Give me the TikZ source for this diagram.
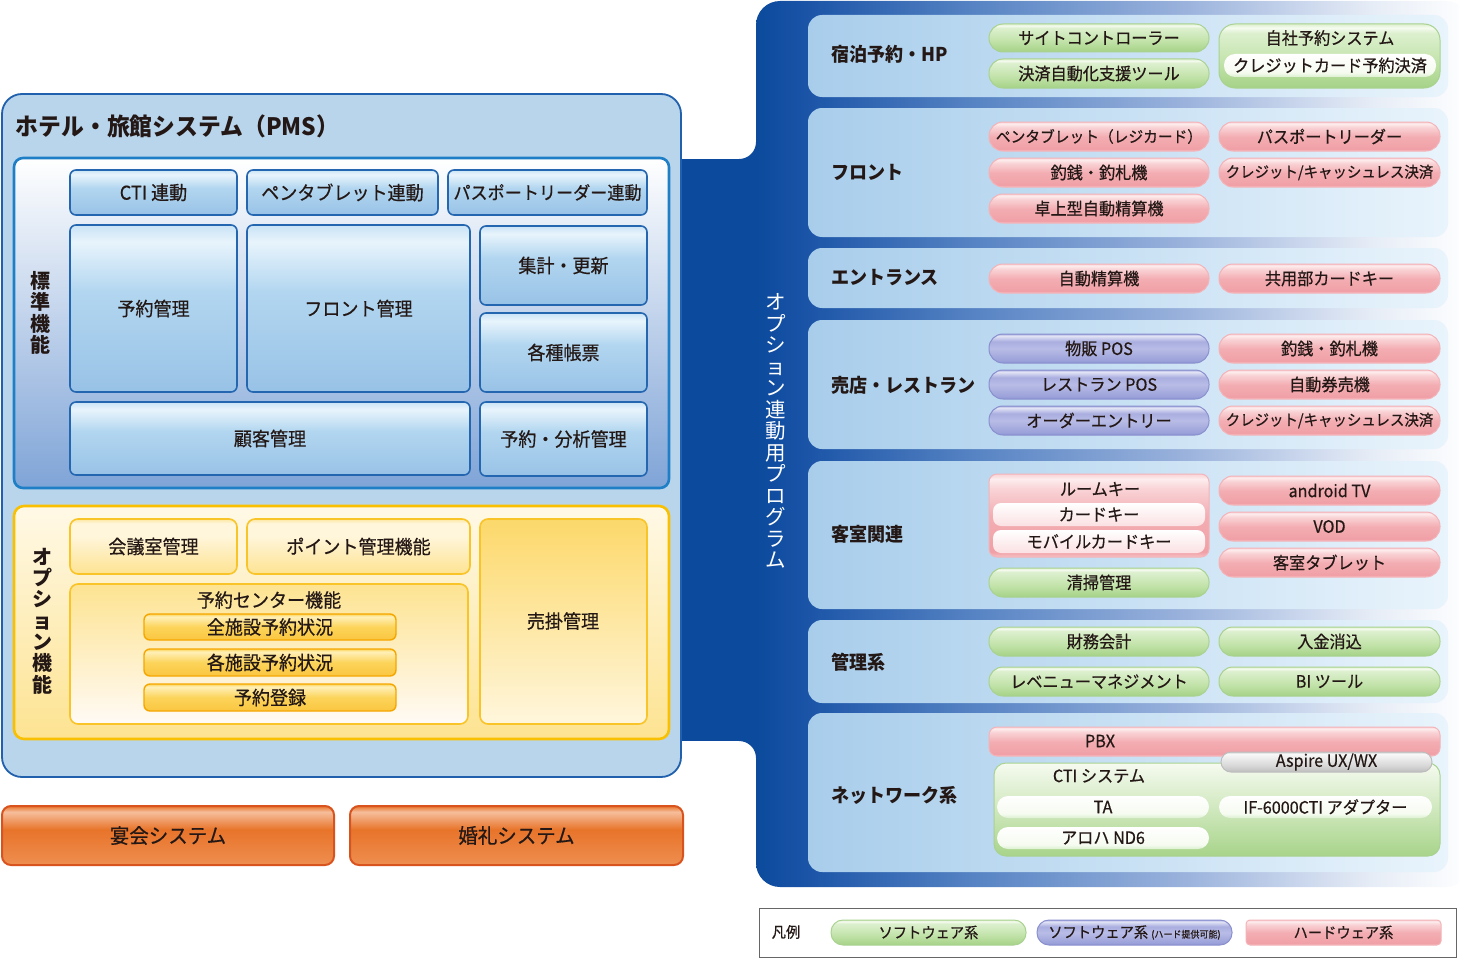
\documentclass[tikz,border=0pt]{standalone}
\usepackage{fontspec}
\setmainfont{Noto Sans CJK JP}[FakeStretch=0.95, UprightFeatures={FakeBold=0.5}]
\newfontfamily\fullw{Noto Sans CJK JP}
\definecolor{txt}{HTML}{231815}
\definecolor{pmsF}{HTML}{B9D5EC}
\definecolor{pmsD}{HTML}{2160AC}
\definecolor{stdD}{HTML}{1E7FC6}
\definecolor{stdB}{HTML}{7FA4D7}
\definecolor{bbd}{HTML}{2467B0}
\definecolor{optD}{HTML}{F8C000}
\definecolor{ybd}{HTML}{F8C428}
\definecolor{ypd}{HTML}{F5A700}
\definecolor{orD}{HTML}{D9531E}
\definecolor{bb0}{HTML}{0B4A9C}
\definecolor{bb1}{HTML}{1852A6}
\definecolor{bb2}{HTML}{5A86C5}
\definecolor{bb3}{HTML}{9AB2DC}
\definecolor{bb4}{HTML}{E6ECF6}
\definecolor{gA}{HTML}{A3D085}
\definecolor{gB}{HTML}{A8D48A}
\definecolor{gC}{HTML}{C2E3AA}
\definecolor{gD}{HTML}{DDF0CF}
\definecolor{gE}{HTML}{F6FBF0}
\definecolor{gBd}{HTML}{A9D290}
\definecolor{pA}{HTML}{F6C2C5}
\definecolor{pB}{HTML}{F0A0A6}
\definecolor{pC}{HTML}{F3AEB3}
\definecolor{pD}{HTML}{F9D3D6}
\definecolor{pE}{HTML}{FDEDEE}
\definecolor{pBd}{HTML}{F3B3B8}
\definecolor{uA}{HTML}{8E94D2}
\definecolor{uB}{HTML}{9CA2DA}
\definecolor{uC}{HTML}{B8BCE6}
\definecolor{uD}{HTML}{A9AEE0}
\definecolor{uE}{HTML}{E4E5F6}
\definecolor{uBd}{HTML}{8A90CE}
\definecolor{kA}{HTML}{BDBDBD}
\definecolor{kB}{HTML}{D6D6D6}
\definecolor{kE}{HTML}{F8F8F8}
\definecolor{bA}{HTML}{98C2E6}
\definecolor{bB}{HTML}{B2D6F0}
\definecolor{bE}{HTML}{E8F4FC}
\definecolor{bD}{HTML}{C9E3F6}
\definecolor{yA}{HTML}{FDE391}
\definecolor{yB}{HTML}{FFF6DC}
\definecolor{yC}{HTML}{FDE7A0}
\definecolor{ysA}{HTML}{FAC640}
\definecolor{ysB}{HTML}{FCD45A}
\definecolor{ysC}{HTML}{FFF0B8}
\definecolor{oA}{HTML}{EE8E50}
\definecolor{oB}{HTML}{E8742A}
\definecolor{oC}{HTML}{F6BE9C}
\definecolor{panL}{HTML}{A8CDEB}
\definecolor{panR}{HTML}{E9F4FC}
\pgfdeclareverticalshading{shG}{100bp}{color(0bp)=(gA); color(25bp)=(gA); color(27bp)=(gB); color(45bp)=(gC); color(68bp)=(gD); color(72bp)=(gE); color(75bp)=(gD); color(100bp)=(gD)}
\pgfdeclareverticalshading{shP}{100bp}{color(0bp)=(pA); color(25bp)=(pA); color(28bp)=(pB); color(50bp)=(pC); color(66bp)=(pD); color(72bp)=(pE); color(75bp)=(pD); color(100bp)=(pD)}
\pgfdeclareverticalshading{shU}{100bp}{color(0bp)=(uA); color(25bp)=(uA); color(30bp)=(uB); color(50bp)=(uC); color(62bp)=(uD); color(72bp)=(uE); color(75bp)=(uD); color(100bp)=(uD)}
\pgfdeclareverticalshading{shK}{100bp}{color(0bp)=(kA); color(25bp)=(kA); color(40bp)=(kB); color(70bp)=(kE); color(75bp)=(kB); color(100bp)=(kB)}
\pgfdeclareverticalshading{shW}{100bp}{color(0bp)=(gD); color(25bp)=(gD); color(35bp)=(gE); color(75bp)=(white); color(100bp)=(white)}
\pgfdeclareverticalshading{shB}{100bp}{color(0bp)=(bA); color(25bp)=(bA); color(55bp)=(bB); color(70bp)=(bE); color(75bp)=(bD); color(100bp)=(bD)}
\pgfdeclareverticalshading{shY}{100bp}{color(0bp)=(yA); color(25bp)=(yA); color(60bp)=(yB); color(71bp)=(yB); color(75bp)=(yC); color(100bp)=(yC)}
\pgfdeclareverticalshading{shYS}{100bp}{color(0bp)=(ysA); color(25bp)=(ysA); color(50bp)=(ysB); color(70bp)=(ysC); color(75bp)=(ysB); color(100bp)=(ysB)}
\pgfdeclareverticalshading{shO}{100bp}{color(0bp)=(oA); color(25bp)=(oA); color(55bp)=(oB); color(70bp)=(oC); color(75bp)=(oB); color(100bp)=(oB)}
\pgfdeclarehorizontalshading{shBig}{100bp}{color(0bp)=(bb0); color(25bp)=(bb0); color(28bp)=(bb1); color(41bp)=(bb2); color(55bp)=(bb3); color(68bp)=(bb4); color(75bp)=(white); color(100bp)=(white)}
\newcommand{\mybox}[7]{%
  \pgfmathsetmacro\mbw{#5-#3}\pgfmathsetmacro\mbh{#6-#4}%
  \node[#2, minimum width=\mbw pt, minimum height=\mbh pt] (#1) at ({(#3+#5)/2},{(#4+#6)/2}) {#7};}
\tikzset{
  base/.style={inner sep=0pt, outer sep=0pt, text=txt},
  bluebox/.style={base, draw=bbd, line width=1.6pt, rounded corners=6pt, shading=shB, font=\fontsize{19}{21}\selectfont},
  ybox/.style={base, draw=ybd, line width=1.6pt, rounded corners=8pt, shading=shY, font=\fontsize{19}{21}\selectfont},
  ysub/.style={base, draw=ypd, line width=1.4pt, rounded corners=6pt, shading=shYS, font=\fontsize{19}{21}\selectfont},
  obox/.style={base, draw=orD, line width=2pt, rounded corners=9pt, shading=shO, font=\fontsize{20.5}{23}\selectfont},
  pill/.style={base, rounded corners=14pt, line width=1pt, font=\fontsize{17}{19}\selectfont},
  gpill/.style={pill, shading=shG, draw=gBd},
  ppill/.style={pill, shading=shP, draw=pBd},
  upill/.style={pill, shading=shU, draw=uBd},
  kpill/.style={pill, rounded corners=10pt, shading=shK, draw=kA},
  wpill/.style={pill, rounded corners=11pt, shading=shW, draw=none},
  panel/.style={base, rounded corners=14pt, left color=panL, right color=panR, draw=none},
  seclbl/.style={base, anchor=west, font=\bfseries\fontsize{19}{22}\selectfont},
  lbl/.style={base, font=\fontsize{17}{19}\selectfont},
  vlbl/.style={base, align=center, font=\fullw\bfseries\fontsize{20}{21.3}\selectfont},
  lgpill/.style={rounded corners=12pt, font=\fontsize{15}{17}\selectfont},
  smalltxt/.style={font=\fontsize{15.5}{18}\selectfont},
  midtxt/.style={font=\fontsize{15.2}{18}\selectfont}
}
\begin{document}
\begin{tikzpicture}[x=1pt,y=-1pt]
\useasboundingbox (0,0) rectangle (1459,958);
% ---------- big blue program area ----------
\path[shading=shBig, rounded corners=24pt] (756,1) rectangle (1470,887);
\fill[bb0] (681.5,159) rectangle (757,741);
\fill[bb0] (756,142) to[out=-90,in=0] (739,159) -- (757,159) -- cycle;
\fill[bb0] (739,741) to[out=0,in=90] (756,758) -- (757,741) -- cycle;
\node[base, align=center, text=white, font=\fullw\fontsize{20.5}{21.5}\selectfont] (optprog) at (776,431) {オ\\プ\\シ\\ョ\\ン\\連\\動\\用\\プ\\ロ\\グ\\ラ\\ム};
% ---------- PMS ----------
\mybox{pms}{base, draw=pmsD, line width=1.8pt, fill=pmsF, rounded corners=20pt}{2}{94}{681}{777}{}
\node[base, anchor=west, font=\bfseries\fontsize{24}{26}\selectfont] (pmstitle) at (16,126) {ホテル・旅館システム（PMS）};
% standard functions
\mybox{std}{base, draw=stdD, line width=2.6pt, rounded corners=9pt, top color=white, bottom color=stdB}{14}{158}{669}{488}{}
\node[vlbl] (stdlbl) at (40,313) {標\\準\\機\\能};
\mybox{cti}{bluebox}{70}{170}{237}{215}{CTI 連動}
\mybox{pen}{bluebox}{247}{170}{438}{215}{ペンタブレット連動}
\mybox{pass}{bluebox, font=\fontsize{18}{20}\selectfont}{448}{170}{647}{215}{パスポートリーダー連動}
\mybox{yoyaku}{bluebox}{70}{225}{237}{392}{予約管理}
\mybox{front}{bluebox}{247}{225}{470}{392}{フロント管理}
\mybox{shukei}{bluebox}{480}{226}{647}{305}{集計・更新}
\mybox{chohyo}{bluebox}{480}{313}{647}{392}{各種帳票}
\mybox{kokyaku}{bluebox}{70}{402}{470}{475}{顧客管理}
\mybox{bunseki}{bluebox}{480}{402}{647}{476}{予約・分析管理}
% option functions
\mybox{opt}{base, draw=optD, line width=2.6pt, rounded corners=10pt, top color=yB!70!white, bottom color=yA}{14}{506}{669}{739}{}
\node[vlbl] (optlbl) at (42,621) {オ\\プ\\シ\\ョ\\ン\\機\\能};
\mybox{kaigi}{ybox}{70}{519}{237}{574}{会議室管理}
\mybox{point}{ybox}{247}{519}{470}{574}{ポイント管理機能}
\mybox{center}{base, draw=ybd, line width=1.6pt, rounded corners=8pt, top color=yA, bottom color=yB!60!orange!8!white}{70}{584}{468}{724}{}
\node[base, font=\fontsize{19}{21}\selectfont] (centerlbl) at (269,600) {予約センター機能};
\mybox{zen}{ysub}{144}{614}{396}{640}{全施設予約状況}
\mybox{kaku}{ysub}{144}{649}{396}{676}{各施設予約状況}
\mybox{toroku}{ysub}{144}{684}{396}{711}{予約登録}
\mybox{urikake}{base, draw=ybd, line width=1.6pt, rounded corners=8pt, top color=ysB!90!white, bottom color=yB}{480}{519}{647}{724}{}
\node[base, font=\fontsize{19}{21}\selectfont] (urikakelbl) at (563,621) {売掛管理};
% banquet / wedding
\mybox{enkai}{obox}{2}{806}{334}{865}{宴会システム}
\mybox{konrei}{obox}{350}{806}{683}{865}{婚礼システム}
% ---------- right panels ----------
\mybox{p1}{panel}{808}{15}{1448}{97}{}
\mybox{p2}{panel}{808}{108}{1448}{237}{}
\mybox{p3}{panel}{808}{248}{1448}{308}{}
\mybox{p4}{panel}{808}{320}{1448}{449}{}
\mybox{p5}{panel}{808}{461}{1448}{609}{}
\mybox{p6}{panel}{808}{620}{1448}{703}{}
\mybox{p7}{panel}{808}{713}{1448}{872}{}
\node[seclbl] (s1) at (831,54) {宿泊予約・HP};
\node[seclbl] (s2) at (831,172) {フロント};
\node[seclbl] (s3) at (831,278) {エントランス};
\node[seclbl] (s4) at (831,385) {売店・レストラン};
\node[seclbl] (s5) at (831,534) {客室関連};
\node[seclbl] (s6) at (831,662) {管理系};
\node[seclbl] (s7) at (831,795) {ネットワーク系};
% 宿泊予約・HP
\mybox{site}{gpill}{989}{24}{1209}{52}{サイトコントローラー}
\mybox{kessai}{gpill}{989}{59}{1209}{88}{決済自動化支援ツール}
\mybox{jisha}{gpill, rounded corners=16pt}{1219}{24}{1440}{88}{}
\node[lbl] (jishalbl) at (1330,38) {自社予約システム};
\mybox{credit}{wpill}{1224}{54}{1436}{77}{クレジットカード予約決済}
% フロント
\mybox{penreg}{ppill, smalltxt}{989}{122}{1209}{151}{ペンタブレット（レジカード）}
\mybox{tsuri1}{ppill}{989}{158}{1209}{187}{釣銭・釣札機}
\mybox{takujo}{ppill}{989}{194}{1209}{223}{卓上型自動精算機}
\mybox{passr}{ppill}{1219}{122}{1440}{151}{パスポートリーダー}
\mybox{cashless1}{ppill, midtxt}{1219}{158}{1440}{187}{クレジット/キャッシュレス決済}
% エントランス
\mybox{jidoseisan}{ppill}{989}{264}{1209}{293}{自動精算機}
\mybox{kyoyo}{ppill}{1219}{264}{1440}{293}{共用部カードキー}
% 売店・レストラン
\mybox{buppan}{upill}{989}{334}{1209}{363}{物販 POS}
\mybox{restpos}{upill}{989}{370}{1209}{399}{レストラン POS}
\mybox{order}{upill}{989}{406}{1209}{435}{オーダーエントリー}
\mybox{tsuri2}{ppill}{1219}{334}{1440}{363}{釣銭・釣札機}
\mybox{kenbai}{ppill}{1219}{370}{1440}{399}{自動券売機}
\mybox{cashless2}{ppill, midtxt}{1219}{406}{1440}{435}{クレジット/キャッシュレス決済}
% 客室関連
\mybox{roomkey}{ppill, rounded corners=8pt}{989}{474}{1209}{557}{}
\node[lbl] (roomkeylbl) at (1100,489) {ルームキー};
\mybox{cardkey}{base, rounded corners=8pt, top color=white, bottom color=pD!70!white, draw=none, font=\fontsize{17}{19}\selectfont}{993}{503}{1205}{526}{カードキー}
\mybox{mobile}{base, rounded corners=8pt, top color=white, bottom color=pD!70!white, draw=none, font=\fontsize{17}{19}\selectfont}{993}{530}{1205}{553}{モバイルカードキー}
\mybox{seiso}{gpill}{989}{568}{1209}{597}{清掃管理}
\mybox{android}{ppill}{1219}{476}{1440}{505}{android TV}
\mybox{vod}{ppill}{1219}{512}{1440}{541}{VOD}
\mybox{tablet}{ppill}{1219}{548}{1440}{577}{客室タブレット}
% 管理系
\mybox{zaimu}{gpill}{989}{627}{1209}{656}{財務会計}
\mybox{nyukin}{gpill}{1219}{627}{1440}{656}{入金消込}
\mybox{revenue}{gpill}{989}{667}{1209}{696}{レベニューマネジメント}
\mybox{bi}{gpill}{1219}{667}{1440}{696}{BI ツール}
% ネットワーク系
\mybox{pbx}{ppill, rounded corners=8pt}{989}{727}{1440}{756}{}
\node[lbl] (pbxlbl) at (1100,741) {PBX};
\mybox{ctisys}{base, rounded corners=12pt, line width=1pt, draw=gBd, top color=gE, bottom color=gB}{994}{763}{1440}{856}{}
\node[lbl] (ctilbl) at (1099,776) {CTI システム};
\mybox{aspire}{kpill}{1221}{752}{1432}{772}{Aspire UX/WX}
\mybox{ta}{wpill}{997}{796}{1209}{818}{TA}
\mybox{if6000}{wpill}{1219}{796}{1432}{818}{IF-6000CTI アダプター}
\mybox{aloha}{wpill}{997}{827}{1209}{849}{アロハ ND6}
% ---------- legend ----------
\mybox{legend}{base, draw=black!60, line width=1pt, fill=white}{759}{908}{1456}{957}{}
\node[base, font=\fontsize{15}{17}\selectfont] (hanrei) at (786,932) {凡例};
\mybox{lgG}{gpill, lgpill}{831}{920}{1026}{945}{ソフトウェア系}
\mybox{lgU}{upill, lgpill}{1037}{920}{1232}{945}{ソフトウェア系 {\fontsize{9.5}{10}\selectfont (ハード提供可能)}}
\mybox{lgP}{ppill, lgpill, rounded corners=4pt}{1246}{920}{1441}{945}{ハードウェア系}
\end{tikzpicture}
\end{document}
